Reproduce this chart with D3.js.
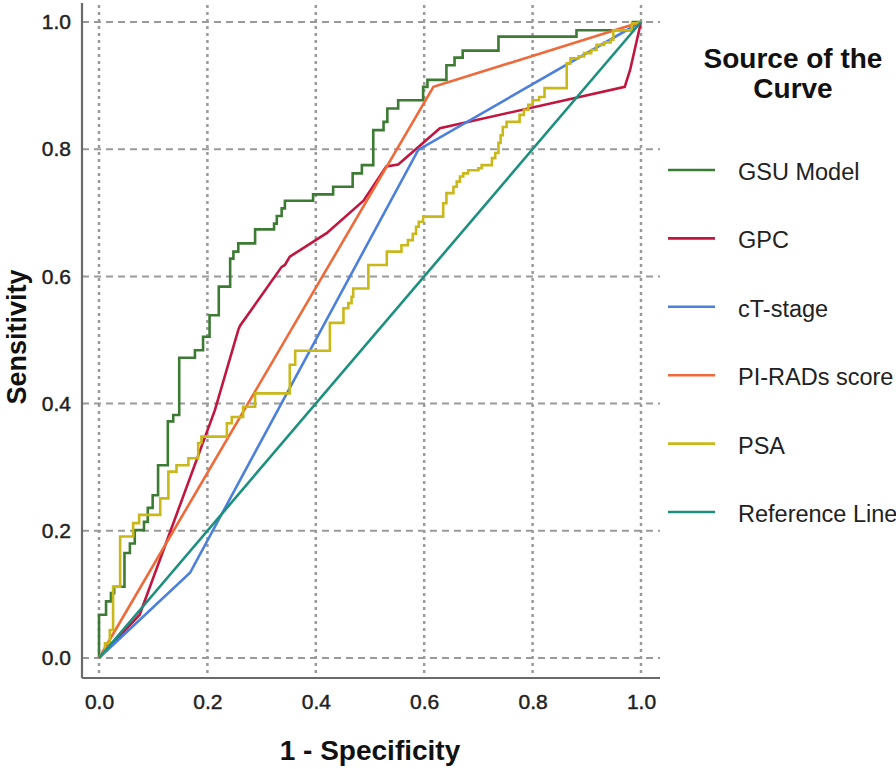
<!DOCTYPE html>
<html>
<head>
<meta charset="utf-8">
<script src="https://cdn.jsdelivr.net/npm/d3@7"></script>
<style>
  html, body { margin: 0; padding: 0; background: #ffffff; }
  svg { display: block; }
  text { font-family: "Liberation Sans", Arial, sans-serif; }
</style>
</head>
<body>
<svg id="chart" width="896" height="769"></svg>
<script>
// ---------- DATA (1 - Specificity, Sensitivity) ----------
const seriesNames = ["GSU Model", "GPC", "cT-stage", "PI-RADs score", "PSA", "Reference Line"];
const seriesColors = ["#3d7b34", "#c0163f", "#4c80dc", "#ef6a3a", "#c9b819", "#1d8f7e"];
const tickValues = [0, 0.2, 0.4, 0.6, 0.8, 1.0];

const gsuModel = [
  [0,0],[0,0.068],[0.013,0.068],[0.013,0.089],[0.022,0.089],[0.022,0.102],[0.028,0.102],[0.028,0.112],
  [0.047,0.112],[0.047,0.165],[0.057,0.165],[0.057,0.180],[0.066,0.180],[0.066,0.201],[0.083,0.201],
  [0.083,0.214],[0.090,0.214],[0.090,0.236],[0.099,0.236],[0.099,0.256],[0.109,0.256],[0.109,0.303],
  [0.127,0.303],[0.127,0.372],[0.137,0.372],[0.137,0.382],[0.148,0.382],[0.148,0.472],[0.177,0.472],
  [0.177,0.484],[0.192,0.484],[0.192,0.505],[0.204,0.505],[0.204,0.539],[0.221,0.539],[0.221,0.584],
  [0.242,0.584],[0.242,0.628],[0.248,0.628],[0.248,0.639],[0.257,0.639],[0.257,0.652],[0.288,0.652],
  [0.288,0.674],[0.323,0.674],[0.323,0.683],[0.328,0.683],[0.328,0.695],[0.337,0.695],[0.337,0.707],
  [0.343,0.707],[0.343,0.719],[0.395,0.719],[0.395,0.729],[0.432,0.729],[0.432,0.741],[0.468,0.741],
  [0.468,0.762],[0.485,0.762],[0.485,0.775],[0.506,0.775],[0.506,0.830],[0.525,0.830],[0.525,0.843],
  [0.532,0.843],[0.532,0.864],[0.552,0.864],[0.552,0.877],[0.598,0.877],[0.598,0.898],[0.606,0.898],
  [0.606,0.909],[0.641,0.909],[0.641,0.932],[0.656,0.932],[0.656,0.944],[0.671,0.944],[0.671,0.955],
  [0.737,0.955],[0.737,0.977],[0.881,0.977],[0.881,0.987],[0.985,0.987],[0.985,1],[1,1]
];

const gpc = [
  [0,0],[0.075,0.068],[0.214,0.390],[0.257,0.516],[0.260,0.522],[0.337,0.615],[0.343,0.618],
  [0.352,0.631],[0.420,0.668],[0.488,0.719],[0.530,0.773],[0.552,0.776],[0.586,0.801],[0.629,0.833],
  [0.970,0.898],[0.980,0.925],[1,1]
];

const ctStage = [[0,0],[0.168,0.134],[0.589,0.799],[1,1]];

const piradsScore = [[0,0],[0.617,0.898],[1,1]];

const psa = [
  [0,0],[0.011,0.010],[0.011,0.023],[0.020,0.023],[0.020,0.044],[0.026,0.044],[0.026,0.112],[0.039,0.112],
  [0.039,0.191],[0.063,0.191],[0.063,0.212],[0.074,0.212],[0.074,0.225],[0.113,0.225],[0.113,0.251],
  [0.128,0.251],[0.128,0.293],[0.143,0.293],[0.143,0.303],[0.165,0.303],[0.165,0.314],[0.183,0.314],
  [0.183,0.338],[0.189,0.338],[0.189,0.348],[0.236,0.348],[0.236,0.369],[0.245,0.369],[0.245,0.379],
  [0.266,0.379],[0.266,0.395],[0.288,0.395],[0.288,0.416],[0.352,0.416],[0.352,0.461],[0.362,0.461],
  [0.362,0.483],[0.426,0.483],[0.426,0.527],[0.451,0.527],[0.451,0.550],[0.460,0.550],[0.460,0.558],
  [0.466,0.558],[0.466,0.568],[0.469,0.568],[0.469,0.581],[0.497,0.581],[0.497,0.618],[0.531,0.618],
  [0.531,0.639],[0.558,0.639],[0.558,0.649],[0.570,0.649],[0.570,0.657],[0.579,0.657],[0.579,0.667],
  [0.585,0.667],[0.585,0.678],[0.590,0.678],[0.590,0.686],[0.598,0.686],[0.598,0.694],[0.635,0.694],
  [0.635,0.715],[0.641,0.715],[0.641,0.731],[0.654,0.731],[0.654,0.741],[0.660,0.741],[0.660,0.749],
  [0.666,0.749],[0.666,0.757],[0.672,0.757],[0.672,0.762],[0.681,0.762],[0.681,0.767],[0.700,0.767],
  [0.700,0.770],[0.706,0.770],[0.706,0.775],[0.725,0.775],[0.725,0.786],[0.731,0.786],[0.731,0.794],
  [0.737,0.794],[0.737,0.810],[0.741,0.810],[0.741,0.822],[0.745,0.822],[0.745,0.835],[0.752,0.835],
  [0.752,0.843],[0.776,0.843],[0.776,0.854],[0.784,0.854],[0.784,0.862],[0.792,0.862],[0.792,0.870],
  [0.800,0.870],[0.800,0.877],[0.812,0.877],[0.812,0.882],[0.822,0.882],[0.822,0.896],[0.863,0.896],
  [0.863,0.935],[0.870,0.935],[0.870,0.943],[0.885,0.943],[0.885,0.946],[0.895,0.946],[0.895,0.951],
  [0.908,0.951],[0.908,0.956],[0.918,0.956],[0.918,0.964],[0.932,0.964],[0.932,0.968],[0.944,0.968],
  [0.944,0.972],[0.949,0.972],[0.949,0.987],[0.983,0.987],[0.983,0.998],[0.992,0.998],[1,1]
];

const referenceLine = [[0,0],[1,1]];

const allSeries = [gsuModel, gpc, ctStage, piradsScore, psa, referenceLine];

// ---------- LAYOUT ----------
const svg = d3.select("#chart");
const x = d3.scaleLinear().domain([0, 1]).range([99, 641]);
const y = d3.scaleLinear().domain([0, 1]).range([658, 22]);
const frame = { left: 82, right: 660, top: 3, bottom: 678 };

// Gridlines
const grid = svg.append("g");
grid.selectAll("line.h").data(tickValues).join("line")
  .attr("x1", frame.left).attr("x2", frame.right)
  .attr("y1", d => y(d)).attr("y2", d => y(d))
  .attr("stroke", "#9a9a9a").attr("stroke-width", 2)
  .attr("stroke-dasharray", "7,5");
grid.selectAll("line.v").data(tickValues).join("line")
  .attr("y1", frame.top + 2).attr("y2", frame.bottom)
  .attr("x1", d => x(d)).attr("x2", d => x(d))
  .attr("stroke", "#9a9a9a").attr("stroke-width", 2.5)
  .attr("stroke-dasharray", "3,4");

// Axes (labels via d3 axes)
const fmt = d3.format(".1f");
const xAxis = svg.append("g").attr("transform", `translate(0,${frame.bottom})`)
  .call(d3.axisBottom(x).tickValues(tickValues).tickFormat(fmt).tickSize(0).tickPadding(16));
const yAxis = svg.append("g").attr("transform", `translate(${frame.left},0)`)
  .call(d3.axisLeft(y).tickValues(tickValues).tickFormat(fmt).tickSize(0).tickPadding(11));
[xAxis, yAxis].forEach(a => {
  a.select(".domain").remove();
  a.selectAll("text").attr("font-family", "Liberation Sans, Arial, sans-serif")
    .attr("font-size", 21).attr("fill", "#222")
    .attr("stroke", "#222").attr("stroke-width", 0.45);
});

// Frame lines
svg.append("line").attr("x1", frame.left).attr("x2", frame.left)
  .attr("y1", frame.top).attr("y2", frame.bottom)
  .attr("stroke", "#6a6a6a").attr("stroke-width", 2.2);
svg.append("line").attr("x1", frame.left).attr("x2", frame.right)
  .attr("y1", frame.bottom).attr("y2", frame.bottom)
  .attr("stroke", "#6a6a6a").attr("stroke-width", 2.2);

// Curves
const line = d3.line().x(d => x(d[0])).y(d => y(d[1]));
svg.append("g").selectAll("path").data(allSeries).join("path")
  .attr("d", line)
  .attr("fill", "none")
  .attr("stroke", (d, i) => seriesColors[i])
  .attr("stroke-width", 2.6)
  .attr("stroke-linejoin", "miter");

// Axis titles
svg.append("text").attr("x", 370).attr("y", 760).attr("text-anchor", "middle")
  .attr("font-size", 28).attr("font-weight", "bold").attr("fill", "#111")
  .text("1 - Specificity");
svg.append("text").attr("transform", "translate(26,337) rotate(-90)")
  .attr("text-anchor", "middle")
  .attr("font-size", 27).attr("font-weight", "bold").attr("fill", "#111")
  .text("Sensitivity");

// Legend
const legend = svg.append("g");
legend.append("text").attr("x", 793).attr("y", 68).attr("text-anchor", "middle")
  .attr("font-size", 28).attr("font-weight", "bold").attr("fill", "#111").text("Source of the");
legend.append("text").attr("x", 793).attr("y", 98).attr("text-anchor", "middle")
  .attr("font-size", 28).attr("font-weight", "bold").attr("fill", "#111").text("Curve");
const items = legend.selectAll("g.item").data(seriesNames).join("g")
  .attr("transform", (d, i) => `translate(0,${170 + i * 68.4})`);
items.append("line").attr("x1", 668).attr("x2", 715).attr("y1", 0).attr("y2", 0)
  .attr("stroke", (d, i) => seriesColors[i]).attr("stroke-width", 2.6);
items.append("text").attr("x", 738).attr("y", 10).attr("font-size", 23.5).attr("fill", "#222")
  .text(d => d);
</script>
</body>
</html>
